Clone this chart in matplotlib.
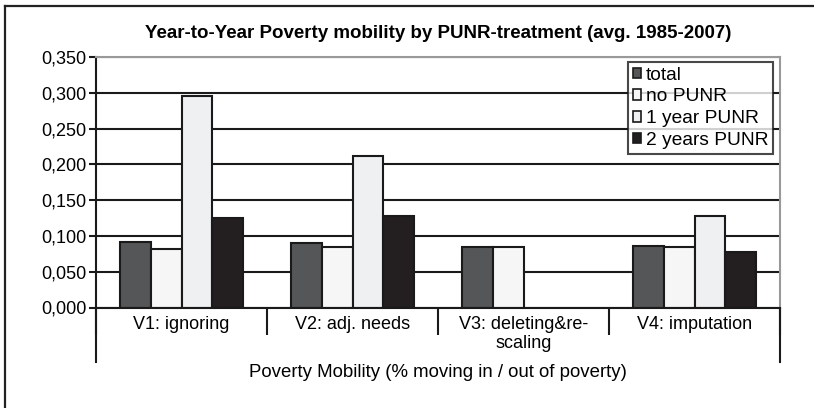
import matplotlib
matplotlib.use("Agg")
import matplotlib.pyplot as plt
from matplotlib.patches import Patch
from matplotlib.lines import Line2D
from matplotlib.ticker import FuncFormatter, MultipleLocator
import numpy as np

plt.rcParams['font.family'] = ['Liberation Sans', 'DejaVu Sans']

# data
categories = ["V1: ignoring", "V2: adj. needs", "V3: deleting&re-\nscaling", "V4: imputation"]
series_names = ["total", "no PUNR", "1 year PUNR", "2 years PUNR"]
total = [0.092, 0.090, 0.0845, 0.086]
no_punr = [0.082, 0.084, 0.0845, 0.085]
one_year = [0.296, 0.212, 0.0, 0.128]
two_years = [0.125, 0.128, 0.0, 0.078]

colors = ["#555658", "#f6f6f6", "#eff0f2", "#231f20"]

W, H = 814, 408
fig = plt.figure(figsize=(W / 100, H / 100), dpi=100)

# outer frame (cropped on right/bottom)
fig.add_artist(Line2D([5 / W, 5 / W], [0, 1 - 6 / H], color="#222222", lw=1.6))
fig.add_artist(Line2D([5 / W, 1], [1 - 6 / H, 1 - 6 / H], color="#222222", lw=1.6))

left, right, top, bottom = 96, 780, 57, 307.5
ax = fig.add_axes([left / W, 1 - bottom / H, (right - left) / W, (bottom - top) / H])

x = np.arange(len(categories))
bw = 0.181
all_series = [total, no_punr, one_year, two_years]
for i, (vals, name, c) in enumerate(zip(all_series, series_names, colors)):
    v = np.array(vals)
    mask = v > 0
    ax.bar(x[mask] + (i - 1.5) * bw, v[mask], bw, color=c, edgecolor="#1a1a1a",
           linewidth=1.5, zorder=3, label=name)

ax.set_xlim(-0.5, len(categories) - 0.5)
ax.set_ylim(0, 0.35)
ax.yaxis.set_major_locator(MultipleLocator(0.05))
ax.yaxis.set_major_formatter(FuncFormatter(lambda v, p: f"{v:.3f}".replace(".", ",")))
ax.grid(axis="y", color="#1a1a1a", lw=1.5, zorder=0)
ax.set_axisbelow(True)

for s in ["top", "right"]:
    ax.spines[s].set_color("#999999")
    ax.spines[s].set_linewidth(1.5)
ax.spines["left"].set_linewidth(1.5)
ax.spines["bottom"].set_linewidth(1.5)
ax.spines["left"].set_color("#1a1a1a")
ax.spines["bottom"].set_color("#1a1a1a")
ax.spines["bottom"].set_zorder(4)

ax.tick_params(axis="y", labelsize=13, length=5, width=1.5, pad=2, color="#1a1a1a")
ax.set_xticks(x)
ax.set_xticklabels(categories, fontsize=13, linespacing=1.15)
ax.tick_params(axis="x", length=0, pad=6)

# category separators below the axis
ax.set_xticks(np.arange(len(categories) + 1) - 0.5, minor=True)
ax.tick_params(axis="x", which="minor", length=19.5, width=1.5, color="#1a1a1a")
trans = ax.get_xaxis_transform()
for xb in [-0.5, len(categories) - 0.5]:
    ax.add_line(Line2D([xb, xb], [0, -54 / (bottom - top)], transform=trans,
                       color="#1a1a1a", lw=1.5, clip_on=False))

ax.set_xlabel("Poverty Mobility (% moving in / out of poverty)", fontsize=13.4, labelpad=9)

fig.text((left + right) / 2 / W, 1 - 33 / H,
         "Year-to-Year Poverty mobility by PUNR-treatment (avg. 1985-2007)",
         ha="center", va="center", fontsize=13.5, fontweight="bold")

handles = [Patch(facecolor=c, edgecolor="#1a1a1a", linewidth=1.2) for c in colors]
leg = ax.legend(handles, series_names, loc="upper right", bbox_to_anchor=(0.99, 0.98),
                fontsize=13.8, frameon=True, fancybox=False, handlelength=0.45, handleheight=0.45,
                handletextpad=0.25, labelspacing=0.25, borderpad=0.24, borderaxespad=0)
leg.get_frame().set_edgecolor("#1a1a1a")
leg.get_frame().set_linewidth(1.5)
leg.set_zorder(5)

fig.savefig("out.png", dpi=100)
